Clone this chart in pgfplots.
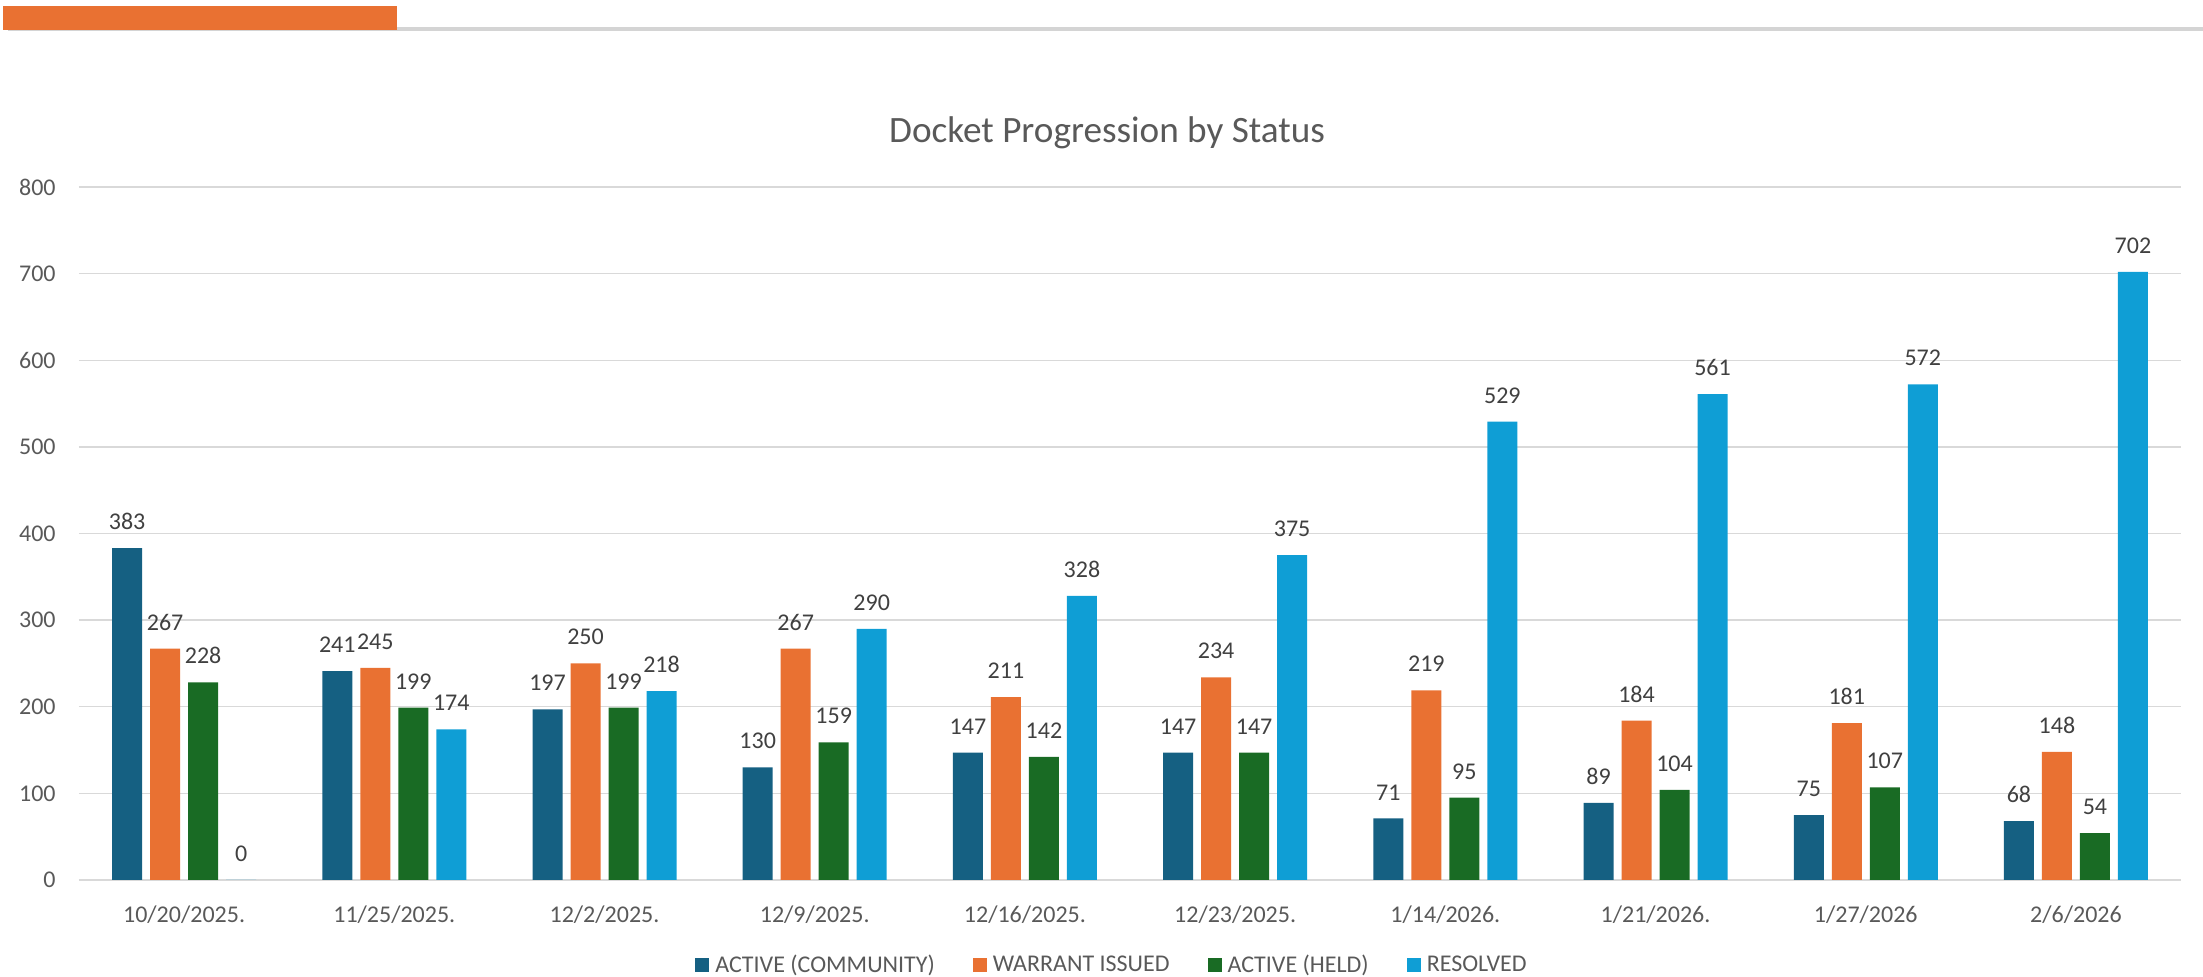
\documentclass[border=0pt]{standalone}
\usepackage{pgfplots}
\pgfplotsset{compat=1.18}
\usepackage{fontspec}
\setmainfont{Carlito}

\definecolor{cCommunity}{HTML}{156082}
\definecolor{cWarrant}{HTML}{E97132}
\definecolor{cHeld}{HTML}{196B24}
\definecolor{cResolved}{HTML}{0F9ED5}
\definecolor{tickgray}{HTML}{595959}
\definecolor{labelgray}{HTML}{404040}
\definecolor{gridgray}{HTML}{D9D9D9}
\definecolor{rulegray}{HTML}{D4D4D4}

\newcommand{\tw}{\fontsize{12pt}{14pt}\selectfont}

\begin{document}
\begin{tikzpicture}
\path[use as bounding box] (0,0) rectangle (1101.5pt,488.5pt);

% header rule with accent block
\fill[rulegray] (4pt,473pt) rectangle (1101.5pt,475pt);
\fill[cWarrant] (1.5pt,473.5pt) rectangle (198.5pt,485.5pt);

% chart title
\node[anchor=base, text=tickgray, font=\fontsize{18.6pt}{22pt}\selectfont, inner sep=0pt]
  at (553.5pt,417pt) {Docket Progression by Status};

\begin{axis}[
  at={(39.5pt,48.5pt)}, anchor=south west,
  scale only axis, width=1051pt, height=346.5pt,
  xmin=-0.5, xmax=9.5, ymin=0, ymax=800,
  ybar=4pt, bar width=15pt,
  clip=false,
  axis line style={draw=none},
  major tick length=0pt,
  ytick={0,100,...,800},
  ymajorgrids, grid style={color=gridgray, line width=0.65pt},
  xtick={0,...,9},
  xticklabels={10/20/2025., 11/25/2025., 12/2/2025., 12/9/2025., 12/16/2025.,
    12/23/2025., 1/14/2026., 1/21/2026., 1/27/2026, 2/6/2026},
  /pgf/number format/assume math mode=true,
  yticklabel style={anchor=east, inner sep=0pt, xshift=-11.5pt, text=tickgray, font=\tw},
  xticklabel style={anchor=north, inner sep=0pt, yshift=-12.5pt, text=tickgray, font=\tw},
  nodes near coords,
  every node near coord/.append style={anchor=south, inner sep=0pt, yshift=9pt,
    text=labelgray, font=\tw},
  legend columns=4,
  legend style={at={(0.5,0)}, anchor=center, xshift=-9.5pt, yshift=-42.5pt, draw=none,
    fill=none, inner sep=0pt, nodes={inner sep=0pt, text=tickgray, font=\tw},
    /tikz/every odd column/.style={column sep=3pt},
    /tikz/every even column/.style={column sep=19pt}},
  legend image code/.code={\fill[#1] (0pt,-3.5pt) rectangle (7pt,3.5pt);},
]
\addplot[fill=cCommunity, draw=none] coordinates {
  (0,383) (1,241) (2,197) (3,130) (4,147) (5,147) (6,71) (7,89) (8,75) (9,68)};
\addplot[fill=cWarrant, draw=none] coordinates {
  (0,267) (1,245) (2,250) (3,267) (4,211) (5,234) (6,219) (7,184) (8,181) (9,148)};
\addplot[fill=cHeld, draw=none] coordinates {
  (0,228) (1,199) (2,199) (3,159) (4,142) (5,147) (6,95) (7,104) (8,107) (9,54)};
\addplot[fill=cResolved, draw=none] coordinates {
  (0,0) (1,174) (2,218) (3,290) (4,328) (5,375) (6,529) (7,561) (8,572) (9,702)};
\legend{ACTIVE (COMMUNITY), WARRANT ISSUED, ACTIVE (HELD), RESOLVED}
\end{axis}
\end{tikzpicture}
\end{document}
